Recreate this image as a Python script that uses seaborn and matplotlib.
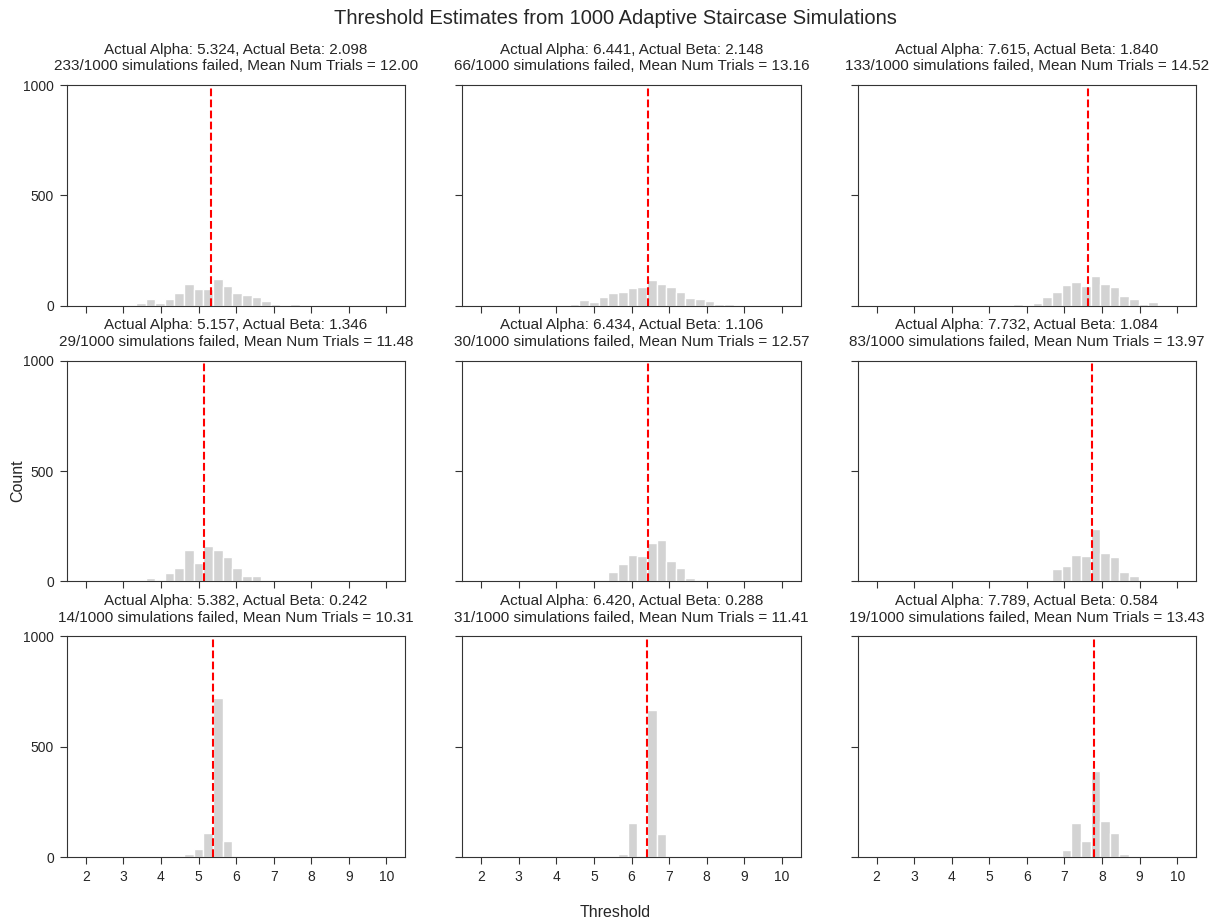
import numpy as np
import pandas as pd
import matplotlib
matplotlib.use("Agg")
import matplotlib.pyplot as plt
import seaborn as sns

# ---- data ----
alphas = [5.324, 6.441, 7.615, 5.157, 6.434, 7.732, 5.382, 6.420, 7.789]
betas = [2.098, 2.148, 1.840, 1.346, 1.106, 1.084, 0.242, 0.288, 0.584]
failed = [233, 66, 133, 29, 30, 83, 14, 31, 19]
mean_trials = [12.00, 13.16, 14.52, 11.48, 12.57, 13.97, 10.31, 11.41, 13.43]
n_sims = 1000

# histogram bins: 39 bins over 0..10; per panel, index of first non-empty bin + counts
bin_range = (0, 10)
n_bins = 39
first_bin = [13, 17, 22, 14, 20, 25, 18, 22, 26]
counts = [
    [10, 28, 13, 28, 58, 96, 74, 74, 121, 87, 58, 46, 40, 21, 9, 2, 6],
    [6, 27, 14, 38, 56, 62, 80, 84, 116, 97, 86, 62, 34, 28, 19, 6, 6],
    [6, 3, 12, 39, 62, 95, 105, 91, 136, 97, 82, 42, 32, 6, 15],
    [15, 6, 36, 62, 141, 85, 161, 141, 111, 61, 24, 23],
    [8, 41, 77, 118, 114, 174, 185, 94, 62, 15, 5],
    [8, 55, 70, 117, 114, 235, 129, 108, 42, 24],
    [14, 36, 111, 723, 73],
    [12, 153, 0, 667, 106, 2],
    [5, 32, 153, 73, 388, 165, 111, 12],
]
x_ticks = [2, 3, 4, 5, 6, 7, 8, 9, 10]
y_ticks = [0, 500, 1000]

sns.set_style("ticks")
plt.rcParams["font.family"] = ["Liberation Sans", "DejaVu Sans"]

fig, axes = plt.subplots(3, 3, figsize=(12.31, 9.24), dpi=100, sharex=True, sharey=True)
fig.subplots_adjust(left=0.0544, right=0.9716, top=0.908, bottom=0.0725,
                    wspace=0.169, hspace=0.25)

bw = (bin_range[1] - bin_range[0]) / n_bins
for i, ax in enumerate(axes.flat):
    k0 = first_bin[i]
    c = counts[i]
    centers = [bin_range[0] + (k0 + j + 0.5) * bw for j in range(len(c))]
    df = pd.DataFrame({"threshold": centers, "n": c})
    sns.histplot(data=df, x="threshold", weights="n", binwidth=bw, binrange=bin_range, ax=ax,
                 color="lightgray", alpha=1.0, edgecolor="white", linewidth=1)
    ax.axvline(alphas[i], color="red", linestyle="--", linewidth=1.5)
    ax.set_title(f"Actual Alpha: {alphas[i]:.3f}, Actual Beta: {betas[i]:.3f}\n"
                 f"{failed[i]}/{n_sims} simulations failed, Mean Num Trials = {mean_trials[i]:.2f}",
                 fontsize=11, pad=10.5, linespacing=1.25, color="#262626")
    ax.set_xlabel("")
    ax.set_ylabel("")
    ax.set_xlim(1.5, 10.5)
    ax.set_ylim(0, 1000)
    ax.set_xticks(x_ticks)
    ax.set_yticks(y_ticks)
    ax.tick_params(labelsize=10, length=5, pad=4.5, colors="#333333", labelcolor="#262626")
    for s in ax.spines.values():
        s.set_color("#333333")

fig.suptitle("Threshold Estimates from 1000 Adaptive Staircase Simulations", fontsize=14.5,
             y=0.99, color="#262626")
fig.text(0.5, 0.004, "Threshold", ha="center", va="bottom", fontsize=11.5, color="#262626")
fig.text(0.008, 0.48, "Count", ha="left", va="center", rotation=90, fontsize=11.5, color="#262626")

fig.savefig("out.png", dpi=100)
